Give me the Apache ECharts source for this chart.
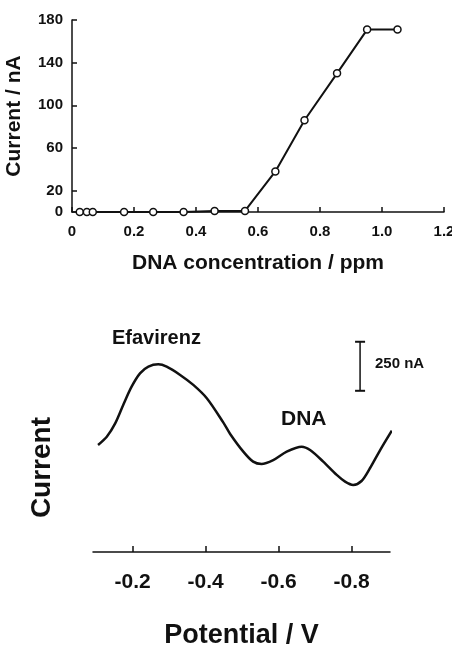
<!DOCTYPE html>
<html>
<head>
<meta charset="utf-8">
<script src="https://cdn.jsdelivr.net/npm/echarts@6/dist/echarts.min.js"></script>
<style>
  html, body { margin: 0; padding: 0; background: #fff; }
  #chart { width: 452px; height: 650px; }
</style>
</head>
<body>
<div id="chart"></div>
<script>
/* Calibración (arriba) y voltamograma (abajo) */

const FONT = "Liberation Sans, Arial, sans-serif";
const INK = "#111";

// --- gráfica superior: corriente vs concentración de ADN
const concPpm = [0.025, 0.048, 0.067, 0.168, 0.262, 0.36, 0.46, 0.558, 0.656, 0.75, 0.855, 0.952, 1.05];
const currentNa = [0, 0, 0, 0, 0, 0, 1, 1, 38, 86, 130, 171, 171];
const yTicksTop = [0, 20, 60, 100, 140, 180];

// --- gráfica inferior: voltamograma (nA relativos)
const potentialV = [-0.105, -0.129, -0.152, -0.174, -0.197, -0.220, -0.243, -0.270, -0.293, -0.330,
  -0.366, -0.403, -0.448, -0.467, -0.503, -0.530, -0.553, -0.585, -0.622, -0.663, -0.686, -0.722,
  -0.759, -0.782, -0.804, -0.827, -0.850, -0.878, -0.910];
const traceNa = [546, 588, 656, 750, 843, 911, 945, 957, 945, 903,
  852, 784, 661, 602, 512, 461, 449, 469, 512, 537, 520, 461,
  393, 359, 342, 362, 427, 520, 619];
const xTicksBottom = [-0.2, -0.4, -0.6, -0.8];
const scaleBarV = -0.823;
const scaleBarNa = [822, 1072];

const chart = echarts.init(document.getElementById("chart"), null, { renderer: "canvas" });

chart.setOption({
  animation: false,
  backgroundColor: "#fff",
  grid: [
    { left: 72, right: 8, top: 20, bottom: 438, outerBoundsMode: "none" },
    { left: 93, right: 62, top: 330, bottom: 98, outerBoundsMode: "none" },
  ],
  xAxis: [{
    gridIndex: 0, type: "value", min: 0, max: 1.2, interval: 0.2,
    name: "DNA concentration / ppm", nameLocation: "middle", nameGap: 41,
    nameTextStyle: { fontFamily: FONT, fontSize: 21, fontWeight: "bold", color: INK },
    axisLine: { lineStyle: { color: INK, width: 1.5 } },
    axisTick: { inside: true, length: 5, lineStyle: { color: INK, width: 1.5 } },
    axisLabel: { margin: 12, fontFamily: FONT, fontSize: 15, fontWeight: "bold", color: INK,
      formatter: v => v === 0 ? "0" : v.toFixed(1) },
    splitLine: { show: false },
  }, {
    gridIndex: 1, type: "value", inverse: true, min: -0.905, max: -0.0912,
    name: "Potential / V", nameLocation: "middle", nameGap: 70,
    nameTextStyle: { fontFamily: FONT, fontSize: 27, fontWeight: "bold", color: INK },
    axisLine: { lineStyle: { color: INK, width: 1.5 } },
    axisTick: { inside: true, length: 6, customValues: xTicksBottom, lineStyle: { color: INK, width: 1.5 } },
    axisLabel: { margin: 20, fontFamily: FONT, fontSize: 21, fontWeight: "bold", color: INK,
      customValues: xTicksBottom, formatter: v => v.toFixed(1) },
    splitLine: { show: false },
  }],
  yAxis: [{
    gridIndex: 0, type: "value", min: 0, max: 180,
    name: "Current / nA", nameLocation: "middle", nameGap: 47, nameRotate: 90,
    nameTextStyle: { fontFamily: FONT, fontSize: 21, fontWeight: "bold", color: INK },
    axisLine: { show: true, lineStyle: { color: INK, width: 1.5 } },
    axisTick: { show: true, inside: true, length: 5, customValues: yTicksTop, lineStyle: { color: INK, width: 1.5 } },
    axisLabel: { margin: 9, fontFamily: FONT, fontSize: 15, fontWeight: "bold", color: INK, customValues: yTicksTop },
    splitLine: { show: false },
  }, {
    gridIndex: 1, type: "value", min: 0, max: 1132, show: false,
  }],
  graphic: [
    { type: "text", left: 28, top: 417, rotation: Math.PI / 2,
      style: { text: "Current", font: "bold 28px " + FONT, fill: INK } },
    { type: "text", left: 112, top: 328,
      style: { text: "Efavirenz", font: "bold 20px " + FONT, fill: INK } },
    { type: "text", left: 281, top: 409,
      style: { text: "DNA", font: "bold 21px " + FONT, fill: INK } },
    { type: "text", left: 375, top: 356,
      style: { text: "250 nA", font: "bold 15px " + FONT, fill: INK } },
  ],
  series: [{
    type: "line", xAxisIndex: 0, yAxisIndex: 0,
    data: concPpm.map((c, i) => [c, currentNa[i]]),
    symbol: "circle", symbolSize: 7,
    lineStyle: { color: INK, width: 2 },
    itemStyle: { color: "#fff", borderColor: INK, borderWidth: 1.5 },
  }, {
    type: "line", xAxisIndex: 1, yAxisIndex: 1, smooth: 0.3, clip: false,
    data: potentialV.map((p, i) => [p, traceNa[i]]),
    symbol: "none",
    lineStyle: { color: INK, width: 2.5 },
  }, {
    type: "line", xAxisIndex: 1, yAxisIndex: 1,
    data: scaleBarNa.map(v => [scaleBarV, v]),
    symbol: "rect", symbolSize: [10, 2],
    lineStyle: { color: INK, width: 1.5 },
    itemStyle: { color: INK },
  }],
});
</script>
</body>
</html>
